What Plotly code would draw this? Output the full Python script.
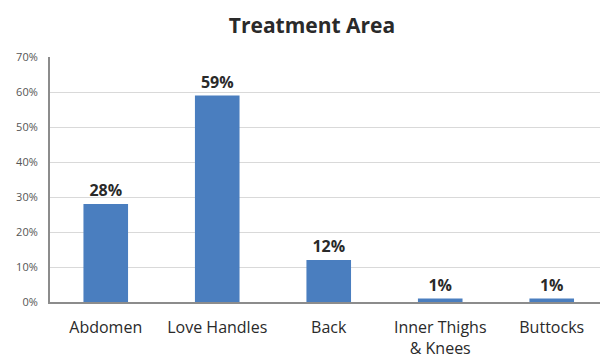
import plotly.graph_objects as go

categories = ["Abdomen", "Love Handles", "Back", "Inner Thighs<br>& Knees", "Buttocks"]
values = [28, 59, 12, 1, 1]
y_ticks = [0, 10, 20, 30, 40, 50, 60, 70]
y_tick_labels = [f"{v}%" for v in y_ticks]

fig = go.Figure(
    go.Bar(
        x=categories,
        y=values,
        marker=dict(color="#4a7ebf", line=dict(width=0)),
        text=[f"{v}%" for v in values],
        textposition="outside",
        textfont=dict(family="Open Sans", size=16, color="#2a2a2a", weight="bold"),
        cliponaxis=False,
    )
)

fig.update_layout(
    width=600,
    height=360,
    margin=dict(l=50, r=0, t=57, b=58),
    paper_bgcolor="white",
    plot_bgcolor="white",
    bargap=0.6,
    showlegend=False,
    title=dict(
        text="<b>Treatment Area</b>",
        x=0.52,
        xanchor="center",
        y=0.93,
        yanchor="middle",
        font=dict(family="Open Sans", size=21, color="#2a2a2a"),
    ),
    xaxis=dict(
        range=[-0.5, 4.433],
        showline=True,
        linecolor="#8c8c8c",
        linewidth=2,
        ticks="",
        ticklabelstandoff=10,
        tickfont=dict(family="Open Sans", size=16, color="#2a2a2a"),
        showgrid=False,
    ),
    yaxis=dict(
        range=[0, 70],
        tickvals=y_ticks,
        ticktext=y_tick_labels,
        showline=True,
        linecolor="#8c8c8c",
        linewidth=2,
        showgrid=True,
        gridcolor="#d9d9d9",
        gridwidth=1,
        zeroline=False,
        ticks="",
        ticklabelstandoff=8,
        tickfont=dict(family="Open Sans", size=11, color="#555555"),
    ),
)

fig.write_html("out.html")
